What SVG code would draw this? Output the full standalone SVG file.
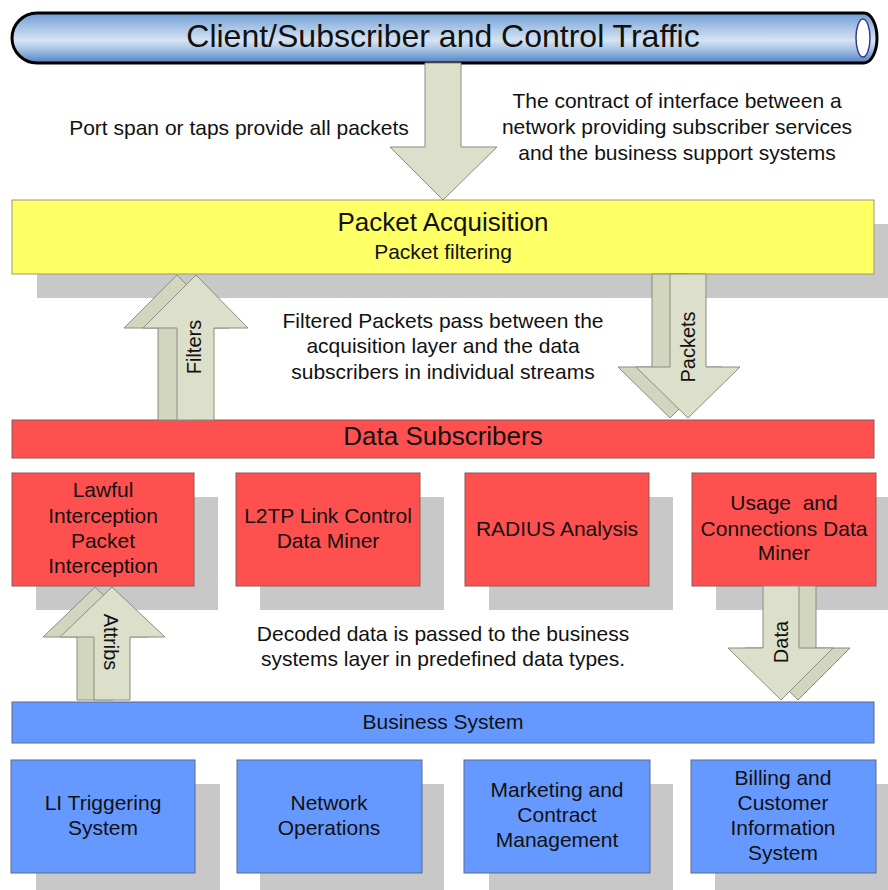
<svg xmlns="http://www.w3.org/2000/svg" width="888" height="890" viewBox="0 0 888 890">
<defs>
<linearGradient id="pipeGrad" x1="0" y1="0" x2="0" y2="1">
<stop offset="0" stop-color="#6f9dd2"/>
<stop offset="0.3" stop-color="#a9c5e6"/>
<stop offset="0.55" stop-color="#d6e3f2"/>
<stop offset="0.75" stop-color="#a2bfe2"/>
<stop offset="1" stop-color="#4d80c2"/>
</linearGradient>
<style>
text{font-family:"Liberation Sans",Arial,sans-serif;fill:#111;text-anchor:middle}
.t21{font-size:21px}
.t20{font-size:20px}
.t26{font-size:26px}
.shadow{fill:#c8c8c8}
.yel{fill:#ffff66;stroke:#9a9a70;stroke-width:1}
.red{fill:#ff5050;stroke:#8a5a5a;stroke-width:1}
.blue{fill:#6699ff;stroke:#5a6a8a;stroke-width:1}
.arr{fill:#dcdfca;stroke:#8c8c80;stroke-width:1}
.arrb{fill:#d3d6bf;stroke:#8c8c80;stroke-width:1}
</style>
</defs>
<rect width="888" height="890" fill="#ffffff"/>

<!-- shadows -->
<g id="shadows">
<rect class="shadow" x="37" y="224" width="870" height="74"/>
<rect class="shadow" x="36" y="497" width="182" height="113"/>
<rect class="shadow" x="260" y="497" width="184" height="113"/>
<rect class="shadow" x="489" y="497" width="184" height="113"/>
<rect class="shadow" x="716" y="497" width="184" height="113"/>
<rect class="shadow" x="36" y="784" width="184" height="113"/>
<rect class="shadow" x="260" y="784" width="184" height="113"/>
<rect class="shadow" x="489" y="784" width="184" height="113"/>
<rect class="shadow" x="715" y="784" width="184" height="113"/>
</g>

<g id="pipe">
<path d="M37 13 H864 A13 25 0 0 1 864 63 H37 A25 25 0 0 1 37 13 Z" fill="url(#pipeGrad)" stroke="#000" stroke-width="3"/>
<ellipse cx="863" cy="38" rx="7" ry="19" fill="#ffffff" stroke="#3a3a90" stroke-width="1.5"/>
<text x="443" y="47" style="font-size:32px">Client/Subscriber and Control Traffic</text>
</g>

<g id="packet-acquisition">
<rect class="yel" x="12" y="200" width="862" height="74"/>
<text class="t26" x="443" y="231">Packet Acquisition</text>
<text class="t21" x="443" y="259">Packet filtering</text>
</g>

<g id="data-subscribers">
<rect class="red" x="12" y="420" width="862" height="38"/>
<text class="t26" x="443" y="445">Data Subscribers</text>
</g>

<g id="lawful-interception">
<rect class="red" x="12" y="473" width="182" height="113"/>
<text class="t21" x="103" y="497">Lawful</text>
<text class="t21" x="103" y="523">Interception</text>
<text class="t21" x="103" y="548">Packet</text>
<text class="t21" x="103" y="573">Interception</text>
</g>

<g id="l2tp">
<rect class="red" x="236" y="473" width="184" height="113"/>
<text class="t21" x="328" y="523">L2TP Link Control</text>
<text class="t21" x="328" y="548">Data Miner</text>
</g>

<g id="radius">
<rect class="red" x="465" y="473" width="184" height="113"/>
<text class="t21" x="557" y="536">RADIUS Analysis</text>
</g>

<g id="usage">
<rect class="red" x="692" y="473" width="184" height="113"/>
<text class="t21" x="784" y="510" xml:space="preserve">Usage  and</text>
<text class="t21" x="784" y="536">Connections Data</text>
<text class="t21" x="784" y="560">Miner</text>
</g>

<g id="business-system">
<rect class="blue" x="12" y="702" width="862" height="41"/>
<text class="t21" x="443" y="729">Business System</text>
</g>

<g id="li-triggering">
<rect class="blue" x="11" y="760" width="184" height="113"/>
<text class="t21" x="103" y="810">LI Triggering</text>
<text class="t21" x="103" y="835">System</text>
</g>

<g id="network-operations">
<rect class="blue" x="237" y="760" width="185" height="113"/>
<text class="t21" x="329" y="810">Network</text>
<text class="t21" x="329" y="835">Operations</text>
</g>

<g id="marketing">
<rect class="blue" x="464" y="760" width="186" height="113"/>
<text class="t21" x="557" y="797">Marketing and</text>
<text class="t21" x="557" y="822">Contract</text>
<text class="t21" x="557" y="847">Management</text>
</g>

<g id="billing">
<rect class="blue" x="691" y="760" width="185" height="113"/>
<text class="t21" x="783" y="785">Billing and</text>
<text class="t21" x="783" y="810">Customer</text>
<text class="t21" x="783" y="835">Information</text>
<text class="t21" x="783" y="860">System</text>
</g>

<g id="connectors">
<!-- main down arrow -->
<polygon class="arr" points="425,63 461,63 461,147 497,147 443,200 390,147 425,147"/>
<!-- Filters up arrow -->
<polygon class="arrb" points="158,420 195,420 195,328 229,328 177,275 124,328 158,328"/>
<polygon class="arr" points="177,420 214,420 214,328 248,328 196,275 143,328 177,328"/>
<text class="t20" x="201" y="347" transform="rotate(-90 201 347)">Filters</text>
<!-- Packets down arrow -->
<polygon class="arrb" points="652,274 688,274 688,367 722,367 670,418 618,367 652,367"/>
<polygon class="arr" points="670,274 706,274 706,367 740,367 688,418 636,367 670,367"/>
<text class="t20" x="695" y="347" transform="rotate(-90 695 347)">Packets</text>
<!-- Attribs up arrow -->
<polygon class="arrb" points="77,700 113,700 113,637 148,637 95,587 43,637 77,637"/>
<polygon class="arr" points="94,700 130,700 130,637 165,637 112,587 60,637 94,637"/>
<text class="t20" x="104" y="642" transform="rotate(90 104 642)">Attribs</text>
<!-- Data down arrow -->
<polygon class="arrb" points="780,586 816,586 816,648 850,648 798,700 745,648 780,648"/>
<polygon class="arr" points="763,586 799,586 799,648 833,648 781,700 728,648 763,648"/>
<text class="t20" x="788" y="642" transform="rotate(-90 788 642)">Data</text>
</g>

<g id="annotations">
<text class="t21" x="239" y="135">Port span or taps provide all packets</text>
<text class="t21" x="677" y="108">The contract of interface between a</text>
<text class="t21" x="677" y="134">network providing subscriber services</text>
<text class="t21" x="677" y="160">and the business support systems</text>
<text class="t21" x="443" y="328">Filtered Packets pass between the</text>
<text class="t21" x="443" y="353">acquisition layer and the data</text>
<text class="t21" x="443" y="379">subscribers in individual streams</text>
<text class="t21" x="443" y="641">Decoded data is passed to the business</text>
<text class="t21" x="443" y="666">systems layer in predefined data types.</text>
</g>
</svg>
